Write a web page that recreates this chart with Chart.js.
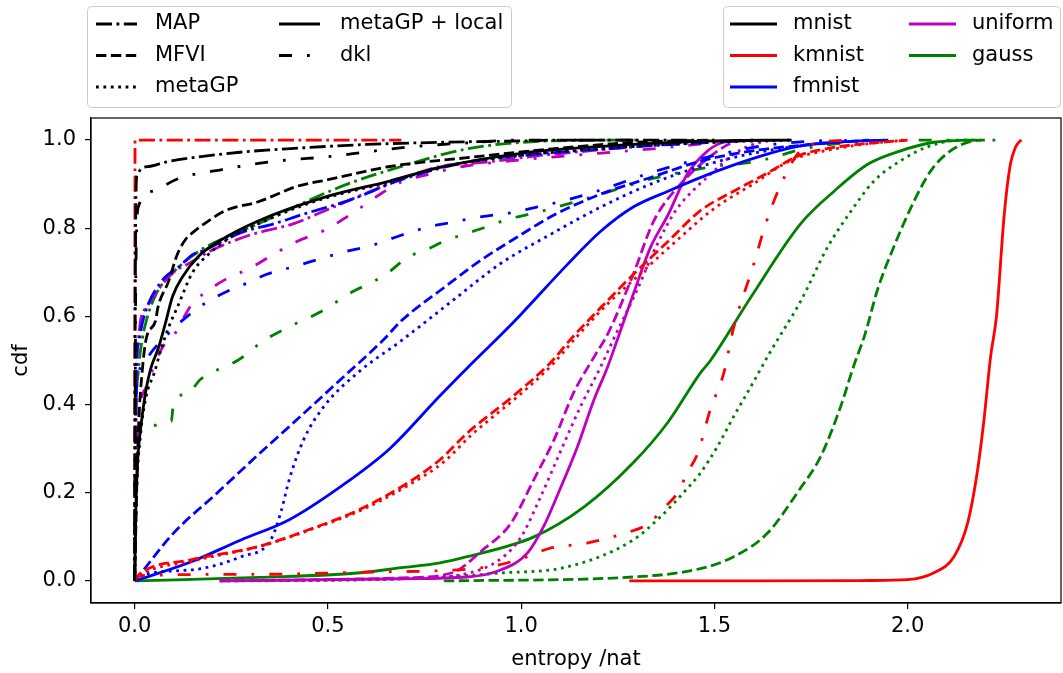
<!DOCTYPE html>
<html>
<head>
<meta charset="utf-8">
<script src="https://cdn.jsdelivr.net/npm/chart.js@4"></script>
<style>
  body { margin: 0; background: #fff; }
  #wrap { width: 1063px; height: 673px; position: relative; }
</style>
</head>
<body>
<div id="wrap"><canvas id="cdfChart"></canvas></div>
<script>
// categories
const datasetNames = ['mnist', 'kmnist', 'fmnist', 'uniform', 'gauss'];
const methodNames = ['MAP', 'MFVI', 'metaGP', 'metaGP + local', 'dkl'];
const xTicks = [0.0, 0.5, 1.0, 1.5, 2.0];
const yTicks = [0.0, 0.2, 0.4, 0.6, 0.8, 1.0];

// entropy cdf curves, [entropy, cdf]
// mnist
const mnistMAP = [[0,0],[0.001,0.5],[0.003,0.85],[0.006,0.92],[0.036,0.94],[0.08,0.95],[0.15,0.96],[0.28,0.973],[0.43,0.982],[0.6,0.99],[0.8,0.995],[1.0,0.998],[1.1,1.0],[1.45,1.0]];
const mnistMFVI = [[0,0],[0.005,0.2],[0.01,0.35],[0.02,0.48],[0.03,0.55],[0.054,0.59],[0.06,0.62],[0.088,0.68],[0.11,0.74],[0.132,0.775],[0.15,0.79],[0.18,0.81],[0.235,0.84],[0.32,0.86],[0.42,0.895],[0.5,0.91],[0.66,0.94],[0.86,0.96],[1.08,0.98],[1.3,0.995],[1.5,1.0]];
const mnistMetaGP = [[0,0],[0.005,0.2],[0.015,0.33],[0.03,0.42],[0.05,0.47],[0.07,0.53],[0.09,0.58],[0.11,0.62],[0.15,0.7],[0.19,0.74],[0.25,0.78],[0.32,0.81],[0.43,0.85],[0.5,0.87],[0.66,0.905],[0.8,0.94],[1.0,0.965],[1.2,0.98],[1.5,0.995],[1.7,1.0]];
const mnistLocal = [[0,0],[0.003,0.16],[0.008,0.275],[0.016,0.35],[0.028,0.427],[0.041,0.48],[0.062,0.53],[0.08,0.586],[0.098,0.645],[0.124,0.69],[0.166,0.737],[0.217,0.77],[0.318,0.816],[0.49,0.87],[0.66,0.907],[0.79,0.938],[1.0,0.97],[1.2,0.985],[1.5,0.998],[1.7,1.0]];
const mnistDkl = [[0,0],[0.003,0.7],[0.01,0.85],[0.05,0.885],[0.106,0.91],[0.158,0.923],[0.22,0.932],[0.27,0.94],[0.32,0.947],[0.4,0.955],[0.5,0.962],[0.6,0.973],[0.72,0.985],[0.85,0.993],[1.0,1.0],[1.3,1.0]];
// kmnist
const kmnistMAP = [[0,0],[0.001,1.0],[0.69,1.0]];
const kmnistMFVI = [[0,0],[0.01,0.013],[0.145,0.048],[0.32,0.078],[0.45,0.116],[0.577,0.16],[0.706,0.222],[0.79,0.275],[0.86,0.335],[0.99,0.427],[1.076,0.495],[1.128,0.548],[1.206,0.62],[1.29,0.695],[1.38,0.77],[1.464,0.84],[1.55,0.884],[1.637,0.925],[1.72,0.965],[1.8,0.982],[1.87,0.99],[2.0,1.0]];
const kmnistMetaGP = [[0,0],[0.01,0.01],[0.15,0.045],[0.33,0.08],[0.46,0.118],[0.59,0.162],[0.71,0.218],[0.8,0.27],[0.87,0.33],[1.0,0.425],[1.08,0.49],[1.14,0.55],[1.22,0.625],[1.3,0.69],[1.4,0.77],[1.5,0.845],[1.6,0.9],[1.7,0.955],[1.8,0.978],[1.9,0.992],[2.0,1.0]];
const kmnistLocal = [[1.28,0],[1.6,0],[1.9,0.001],[2.0,0.003],[2.067,0.018],[2.12,0.055],[2.155,0.13],[2.18,0.245],[2.197,0.36],[2.215,0.51],[2.23,0.6],[2.25,0.83],[2.266,0.945],[2.28,0.985],[2.29,0.997],[2.295,1.0]];
const kmnistDkl = [[0,0],[0.01,0.012],[0.3,0.015],[0.6,0.02],[0.9,0.03],[1.0,0.05],[1.07,0.073],[1.17,0.086],[1.275,0.11],[1.33,0.13],[1.37,0.166],[1.405,0.2],[1.43,0.245],[1.457,0.29],[1.49,0.39],[1.524,0.47],[1.55,0.575],[1.6,0.713],[1.633,0.81],[1.67,0.895],[1.715,0.968],[1.75,0.99],[1.85,1.0]];
// fmnist
const fmnistMAP = [[0,0],[0.002,0.3],[0.005,0.5],[0.01,0.54],[0.02,0.586],[0.036,0.63],[0.054,0.66],[0.08,0.69],[0.115,0.713],[0.15,0.74],[0.18,0.75],[0.275,0.79],[0.36,0.81],[0.43,0.83],[0.56,0.865],[0.69,0.91],[0.86,0.95],[1.0,0.965],[1.3,0.985],[1.6,1.0]];
const fmnistMFVI = [[0,0],[0.023,0.025],[0.1,0.108],[0.214,0.2],[0.318,0.285],[0.4,0.35],[0.533,0.457],[0.645,0.548],[0.69,0.59],[0.8,0.665],[0.9,0.73],[0.99,0.78],[1.085,0.83],[1.205,0.877],[1.335,0.915],[1.464,0.952],[1.594,0.975],[1.75,0.99],[1.9,1.0]];
const fmnistMetaGP = [[0,0],[0.008,0.01],[0.145,0.025],[0.275,0.055],[0.352,0.093],[0.378,0.155],[0.4,0.23],[0.437,0.32],[0.49,0.396],[0.577,0.472],[0.69,0.545],[0.82,0.634],[0.947,0.72],[1.076,0.786],[1.206,0.848],[1.335,0.9],[1.464,0.94],[1.6,0.97],[1.75,0.99],[1.85,1.0]];
const fmnistLocal = [[0,0],[0.145,0.043],[0.275,0.093],[0.4,0.139],[0.533,0.214],[0.66,0.3],[0.79,0.42],[0.88,0.5],[0.95,0.56],[1.0,0.605],[1.12,0.718],[1.206,0.793],[1.29,0.848],[1.38,0.884],[1.508,0.93],[1.637,0.968],[1.72,0.986],[1.85,0.997],[1.95,1.0]];
const fmnistDkl = [[0,0],[0.002,0.35],[0.01,0.47],[0.036,0.51],[0.106,0.577],[0.15,0.61],[0.19,0.634],[0.24,0.657],[0.295,0.677],[0.34,0.695],[0.4,0.71],[0.55,0.748],[0.61,0.76],[0.66,0.775],[0.71,0.79],[0.77,0.805],[0.82,0.813],[0.875,0.823],[0.93,0.83],[0.98,0.836],[1.04,0.848],[1.1,0.86],[1.2,0.885],[1.35,0.93],[1.5,0.965],[1.65,0.99],[1.8,1.0]];
// uniform
const uniformMAP = [[0,0],[0.002,0.3],[0.01,0.55],[0.03,0.62],[0.1,0.7],[0.13,0.715],[0.2,0.75],[0.3,0.785],[0.41,0.81],[0.48,0.835],[0.6,0.88],[0.7,0.915],[0.79,0.94],[0.91,0.95],[1.05,0.965],[1.17,0.975],[1.35,0.99],[1.5,1.0]];
const uniformMFVI = [[0.22,0],[0.69,0.007],[0.82,0.018],[0.9,0.07],[0.973,0.13],[1.033,0.23],[1.085,0.32],[1.136,0.427],[1.19,0.51],[1.224,0.56],[1.29,0.695],[1.343,0.816],[1.42,0.907],[1.508,0.975],[1.55,0.995],[1.6,1.0]];
const uniformMetaGP = [[0.22,0],[0.69,0.005],[0.85,0.015],[0.947,0.05],[1.0,0.1],[1.05,0.19],[1.1,0.29],[1.154,0.396],[1.206,0.486],[1.24,0.55],[1.3,0.66],[1.35,0.76],[1.4,0.84],[1.45,0.89],[1.482,0.916],[1.55,0.968],[1.6,0.99],[1.65,1.0]];
const uniformLocal = [[0.22,0],[0.69,0.005],[0.86,0.009],[0.947,0.025],[1.016,0.063],[1.058,0.123],[1.1,0.207],[1.146,0.305],[1.188,0.41],[1.224,0.486],[1.25,0.55],[1.29,0.65],[1.335,0.757],[1.38,0.83],[1.43,0.923],[1.482,0.975],[1.524,0.995],[1.6,1.0]];
const uniformDkl = [[0,0],[0.005,0.3],[0.03,0.44],[0.047,0.48],[0.072,0.53],[0.1,0.555],[0.124,0.593],[0.15,0.63],[0.184,0.655],[0.235,0.684],[0.3,0.71],[0.35,0.736],[0.42,0.77],[0.49,0.795],[0.56,0.832],[0.64,0.88],[0.69,0.905],[0.75,0.92],[0.85,0.94],[1.0,0.955],[1.2,0.97],[1.4,0.985],[1.55,1.0]];
// gauss
const gaussMAP = [[0,0],[0.002,0.3],[0.01,0.48],[0.02,0.55],[0.03,0.59],[0.055,0.65],[0.1,0.7],[0.17,0.75],[0.25,0.785],[0.32,0.81],[0.43,0.855],[0.55,0.9],[0.69,0.94],[0.86,0.98],[1.08,0.998],[1.3,1.0]];
const gaussMFVI = [[0.8,0],[1.29,0.009],[1.464,0.028],[1.55,0.055],[1.637,0.108],[1.72,0.207],[1.775,0.282],[1.827,0.396],[1.86,0.486],[1.89,0.56],[1.922,0.66],[1.964,0.757],[2.016,0.86],[2.06,0.93],[2.11,0.975],[2.17,0.998],[2.2,1.0]];
const gaussMetaGP = [[0.3,0],[0.7,0.005],[0.947,0.018],[1.12,0.032],[1.29,0.093],[1.36,0.145],[1.42,0.2],[1.464,0.245],[1.508,0.305],[1.55,0.373],[1.594,0.44],[1.645,0.52],[1.723,0.634],[1.793,0.757],[1.853,0.838],[1.912,0.906],[1.98,0.952],[2.05,0.984],[2.14,1.0],[2.2,1.0]];
const gaussLocal = [[0,0],[0.32,0.008],[0.577,0.018],[0.69,0.03],[0.79,0.041],[0.86,0.055],[1.033,0.1],[1.163,0.168],[1.29,0.268],[1.38,0.36],[1.464,0.472],[1.49,0.5],[1.594,0.643],[1.723,0.81],[1.81,0.884],[1.897,0.945],[1.98,0.975],[2.067,0.995],[2.15,1.0]];
const gaussDkl = [[0,0],[0.002,0.3],[0.033,0.348],[0.08,0.36],[0.095,0.362],[0.1,0.4],[0.14,0.427],[0.17,0.457],[0.217,0.48],[0.266,0.5],[0.334,0.545],[0.396,0.575],[0.48,0.61],[0.566,0.657],[0.62,0.68],[0.66,0.702],[0.706,0.734],[0.757,0.752],[0.8,0.77],[0.9,0.8],[0.965,0.82],[1.05,0.838],[1.206,0.877],[1.35,0.915],[1.5,0.94],[1.6,0.95],[1.65,0.96],[1.73,0.98],[1.88,0.997],[2.0,1.0],[2.24,1.0]];

const curves = {
  mnist: [mnistMAP, mnistMFVI, mnistMetaGP, mnistLocal, mnistDkl],
  kmnist: [kmnistMAP, kmnistMFVI, kmnistMetaGP, kmnistLocal, kmnistDkl],
  fmnist: [fmnistMAP, fmnistMFVI, fmnistMetaGP, fmnistLocal, fmnistDkl],
  uniform: [uniformMAP, uniformMFVI, uniformMetaGP, uniformLocal, uniformDkl],
  gauss: [gaussMAP, gaussMFVI, gaussMetaGP, gaussLocal, gaussDkl]
};

// styles
const LW = 2.8;
const colors = { mnist: '#000000', kmnist: '#ff0000', fmnist: '#0000ff', uniform: '#bf00bf', gauss: '#008000' };
const dashes = {
  'MAP': [16, 4.5, 2.8, 4.5],
  'MFVI': [10.4, 4.5],
  'metaGP': [2.8, 4.6],
  'metaGP + local': [],
  'dkl': [13, 15, 2.8, 15]
};
const FONT = '"DejaVu Sans", sans-serif';

const datasets = [];
datasetNames.forEach(d => {
  methodNames.forEach((m, i) => {
    datasets.push({
      label: d + ' ' + m,
      data: curves[d][i].map(p => ({ x: p[0], y: p[1] })),
      borderColor: colors[d],
      backgroundColor: colors[d],
      borderWidth: LW,
      borderDash: dashes[m],
      showLine: true,
      pointRadius: 0,
      cubicInterpolationMode: 'monotone',
      fill: false
    });
  });
});

// frame + the two legend boxes
const framePlugin = {
  id: 'frame',
  afterDatasetsDraw(chart) {
    const { ctx, chartArea: a } = chart;
    ctx.save();
    ctx.strokeStyle = '#000';
    ctx.lineWidth = 1.2;
    ctx.strokeRect(a.left, a.top, a.right - a.left, a.bottom - a.top);
    ctx.restore();
  },
  afterDraw(chart) {
    const ctx = chart.ctx;
    function box(x0, y0, x1, y1) {
      const r = 4;
      ctx.beginPath();
      ctx.moveTo(x0 + r, y0);
      ctx.arcTo(x1, y0, x1, y1, r);
      ctx.arcTo(x1, y1, x0, y1, r);
      ctx.arcTo(x0, y1, x0, y0, r);
      ctx.arcTo(x0, y0, x1, y0, r);
      ctx.closePath();
      ctx.fillStyle = 'rgba(255,255,255,0.8)';
      ctx.fill();
      ctx.strokeStyle = '#cccccc';
      ctx.lineWidth = 1;
      ctx.stroke();
    }
    function entry(x0, x1, tx, y, color, dash, text) {
      ctx.beginPath();
      ctx.setLineDash(dash);
      ctx.strokeStyle = color;
      ctx.lineWidth = LW;
      ctx.moveTo(x0, y);
      ctx.lineTo(x1, y);
      ctx.stroke();
      ctx.setLineDash([]);
      ctx.fillStyle = '#000';
      ctx.fillText(text, tx, y);
    }
    ctx.save();
    ctx.font = '21px ' + FONT;
    ctx.textBaseline = 'middle';
    ctx.textAlign = 'left';
    const rows = [24, 55.5, 87];

    box(87.5, 6.5, 511.5, 107.5);
    methodNames.forEach((m, i) => {
      const col = i < 3 ? 0 : 1;
      const row = i < 3 ? i : i - 3;
      const lx = col === 0 ? 96 : 279;
      const tx = col === 0 ? 155 : 340;
      entry(lx, lx + 41, tx, rows[row], '#000', dashes[m], m);
    });

    box(723.5, 6.5, 1060.5, 107.5);
    datasetNames.forEach((d, i) => {
      const col = i < 3 ? 0 : 1;
      const row = i < 3 ? i : i - 3;
      const lx = col === 0 ? 730 : 909;
      const tx = col === 0 ? 793 : 972;
      entry(lx, lx + 47, tx, rows[row], colors[d], [], d);
    });
    ctx.restore();
  }
};

function initializeChart() {
  const ctx = document.getElementById('cdfChart').getContext('2d');
  new Chart(ctx, {
    type: 'scatter',
    data: { datasets: datasets },
    options: {
      responsive: true,
      maintainAspectRatio: false,
      animation: false,
      layout: { padding: { left: 0, right: 2, top: 118, bottom: 0 } },
      plugins: {
        legend: { display: false },
        tooltip: { enabled: false }
      },
      scales: {
        x: {
          type: 'linear',
          min: -0.113,
          max: 2.397,
          afterBuildTicks: s => { s.ticks = xTicks.map(v => ({ value: v })); },
          afterFit: s => { s.height = 70; },
          ticks: {
            font: { family: FONT, size: 21 },
            color: '#000',
            padding: 5,
            maxRotation: 0,
            callback: v => v.toFixed(1)
          },
          grid: { display: true, drawOnChartArea: false, drawTicks: true, tickLength: 6, color: '#000', lineWidth: 1.2 },
          border: { display: true, color: '#000', width: 1.2 },
          title: { display: true, text: 'entropy /nat', font: { family: FONT, size: 21 }, color: '#000', padding: { top: 4, bottom: 1 } }
        },
        y: {
          type: 'linear',
          min: -0.05,
          max: 1.05,
          afterBuildTicks: s => { s.ticks = yTicks.map(v => ({ value: v })); },
          afterFit: s => { s.width = 91; },
          ticks: {
            font: { family: FONT, size: 21 },
            color: '#000',
            padding: 9,
            callback: v => v.toFixed(1)
          },
          grid: { display: true, drawOnChartArea: false, drawTicks: true, tickLength: 6, color: '#000', lineWidth: 1.2 },
          border: { display: true, color: '#000', width: 1.2 },
          title: { display: true, text: 'cdf', font: { family: FONT, size: 21 }, color: '#000', padding: { top: 9, bottom: 4 } }
        }
      }
    },
    plugins: [framePlugin]
  });
}

document.addEventListener('DOMContentLoaded', function() {
  initializeChart();
});
</script>
</body>
</html>
